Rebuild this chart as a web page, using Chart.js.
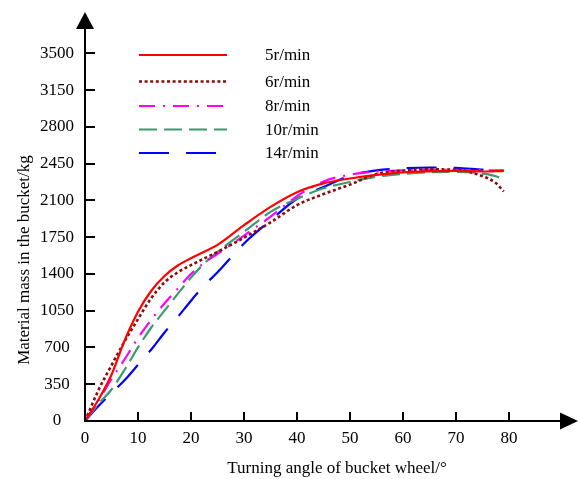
<!DOCTYPE html>
<html>
<head>
<meta charset="utf-8">
<script src="https://cdn.jsdelivr.net/npm/chart.js@4/dist/chart.umd.min.js"></script>
<style>
  html, body { margin: 0; padding: 0; background: #ffffff; }
  #wrap { width: 579px; height: 479px; }
</style>
</head>
<body>
<div id="wrap"><canvas id="c" width="579" height="479"></canvas></div>
<script>
// Bucket wheel turning angle (degrees)
const angles = [0, 2.5, 5, 7.5, 10, 12.5, 15, 17.5, 20, 22.5, 25, 30, 35, 40, 45, 50, 55, 60, 65, 70, 75, 77.5, 79];

// Material mass in the bucket (kg) for each wheel speed
const mass5r  = [0, 200, 440, 770, 1040, 1240, 1380, 1480, 1550, 1612, 1676, 1864, 2038, 2178, 2262, 2308, 2342, 2366, 2376, 2380, 2375, 2378, 2380];
const mass6r  = [0, 290, 530, 760, 970, 1170, 1320, 1415, 1484, 1547, 1610, 1745, 1890, 2055, 2160, 2250, 2350, 2385, 2395, 2392, 2330, 2265, 2185];
const mass8r  = [0, 190, 400, 590, 790, 965, 1120, 1260, 1400, 1505, 1590, 1765, 1945, 2140, 2280, 2345, 2375, 2385, 2390, 2390, 2385, 2385, 2385];
const mass10r = [0, 160, 300, 490, 700, 890, 1050, 1210, 1365, 1500, 1610, 1800, 1990, 2115, 2215, 2275, 2325, 2352, 2368, 2372, 2355, 2330, 2295];
const mass14r = [0, 140, 265, 390, 535, 680, 843, 990, 1145, 1290, 1415, 1690, 1910, 2115, 2228, 2335, 2385, 2405, 2413, 2410, 2392, 2386, 2380];

const seriesLabels = ['5r/min', '6r/min', '8r/min', '10r/min', '14r/min'];

// Axis tick labels
const massTicks  = [0, 350, 700, 1050, 1400, 1750, 2100, 2450, 2800, 3150, 3500];
const angleTicks = [0, 10, 20, 30, 40, 50, 60, 70, 80];

const xTitle = 'Turning angle of bucket wheel/°';
const yTitle = 'Material mass in the bucket/kg';

const SERIF = '"Liberation Serif", "Times New Roman", serif';

function pts(ys) { return angles.map((a, i) => ({ x: a, y: ys[i] })); }

const styles = [
  { color: '#ff0000', dash: [],            width: 2.2 },
  { color: '#8b0a0a', dash: [3, 2.6],      width: 2.6 },
  { color: '#ff00ff', dash: [16, 8, 2, 8], width: 2.2 },
  { color: '#3d9a6c', dash: [18, 7],       width: 2.2 },
  { color: '#0000ff', dash: [30, 17],      width: 2.2 }
];
const seriesValues = [mass5r, mass6r, mass8r, mass10r, mass14r];

const datasets = seriesValues.map((vals, i) => ({
  label: seriesLabels[i],
  data: pts(vals),
  borderColor: styles[i].color,
  borderWidth: styles[i].width,
  borderDash: styles[i].dash,
  borderCapStyle: 'butt',
  pointRadius: 0,
  fill: false,
  cubicInterpolationMode: 'monotone'
}));

// Axes with arrowheads and inward tick marks
const axisPlugin = {
  id: 'arrowAxes',
  afterDatasetsDraw(chart) {
    const { ctx, chartArea, scales } = chart;
    const x0 = scales.x.getPixelForValue(0);
    const y0 = scales.y.getPixelForValue(0);
    ctx.save();
    ctx.strokeStyle = '#000';
    ctx.fillStyle = '#000';
    ctx.lineWidth = 2;
    ctx.setLineDash([]);
    // vertical axis
    ctx.beginPath();
    ctx.moveTo(x0, y0 + 1);
    ctx.lineTo(x0, chartArea.top + 12);
    ctx.stroke();
    ctx.beginPath();
    ctx.moveTo(x0, chartArea.top);
    ctx.lineTo(x0 - 9, chartArea.top + 17);
    ctx.lineTo(x0 + 9, chartArea.top + 17);
    ctx.closePath();
    ctx.fill();
    // horizontal axis
    ctx.beginPath();
    ctx.moveTo(x0 - 1, y0);
    ctx.lineTo(chartArea.right - 12, y0);
    ctx.stroke();
    ctx.beginPath();
    ctx.moveTo(chartArea.right, y0);
    ctx.lineTo(chartArea.right - 18, y0 - 8.5);
    ctx.lineTo(chartArea.right - 18, y0 + 8.5);
    ctx.closePath();
    ctx.fill();
    // tick marks pointing into the plot
    massTicks.forEach(v => {
      if (v === 0) return;
      const y = Math.round(scales.y.getPixelForValue(v));
      ctx.beginPath();
      ctx.moveTo(x0, y);
      ctx.lineTo(x0 + 10, y);
      ctx.stroke();
    });
    angleTicks.forEach(v => {
      if (v === 0) return;
      const x = Math.round(scales.x.getPixelForValue(v));
      ctx.beginPath();
      ctx.moveTo(x, y0);
      ctx.lineTo(x, y0 - 9);
      ctx.stroke();
    });
    ctx.restore();
  }
};

// Axis titles
const titlePlugin = {
  id: 'axisTitles',
  afterDraw(chart) {
    const { ctx } = chart;
    ctx.save();
    ctx.fillStyle = '#000';
    ctx.textAlign = 'center';
    ctx.textBaseline = 'middle';
    ctx.font = '17px ' + SERIF;
    ctx.fillText(xTitle, 337, 469);
    ctx.translate(25, 260);
    ctx.rotate(-Math.PI / 2);
    ctx.font = '17px ' + SERIF;
    ctx.fillText(yTitle, 0, 0);
    ctx.restore();
  }
};

// Legend: line sample on the left, label on the right
const legendPlugin = {
  id: 'lineLegend',
  afterDraw(chart) {
    const { ctx } = chart;
    const rowY = [55, 81.5, 106, 129.5, 153];
    ctx.save();
    chart.data.datasets.forEach((ds, i) => {
      const y = rowY[i];
      ctx.strokeStyle = ds.borderColor;
      ctx.lineWidth = ds.borderWidth;
      ctx.setLineDash(ds.borderDash);
      ctx.lineCap = 'butt';
      ctx.beginPath();
      ctx.moveTo(139, y);
      ctx.lineTo(227, y);
      ctx.stroke();
      ctx.setLineDash([]);
      ctx.fillStyle = '#000';
      ctx.font = '17px ' + SERIF;
      ctx.textAlign = 'left';
      ctx.textBaseline = 'middle';
      ctx.fillText(ds.label, 265, y + 1);
    });
    ctx.restore();
  }
};

function noEdgePadding(s) {
  s.paddingTop = 0;
  s.paddingBottom = 0;
  s.paddingLeft = 0;
  s.paddingRight = 0;
}

new Chart(document.getElementById('c'), {
  type: 'line',
  data: { datasets },
  plugins: [axisPlugin, titlePlugin, legendPlugin],
  options: {
    responsive: false,
    animation: false,
    devicePixelRatio: 1,
    layout: { padding: { left: 0, right: 1, top: 12, bottom: 0 } },
    plugins: { legend: { display: false }, tooltip: { enabled: false } },
    scales: {
      x: {
        type: 'linear',
        min: 0,
        max: 93,
        afterBuildTicks: s => { s.ticks = angleTicks.map(v => ({ value: v })); },
        afterFit: s => { s.height = 58; noEdgePadding(s); },
        grid: { display: false, drawTicks: false },
        border: { display: false },
        ticks: { color: '#000', font: { family: SERIF, size: 17 }, padding: 7, maxRotation: 0, autoSkip: false, callback: v => String(v) }
      },
      y: {
        type: 'linear',
        min: 0,
        max: 3893,
        afterBuildTicks: s => { s.ticks = massTicks.map(v => ({ value: v })); },
        afterFit: s => { s.width = 85; noEdgePadding(s); },
        grid: { display: false, drawTicks: false },
        border: { display: false },
        ticks: { color: '#000', font: { family: SERIF, size: 17 }, padding: 11, crossAlign: 'center', autoSkip: false, callback: v => String(v) }
      }
    }
  }
});
</script>
</body>
</html>
